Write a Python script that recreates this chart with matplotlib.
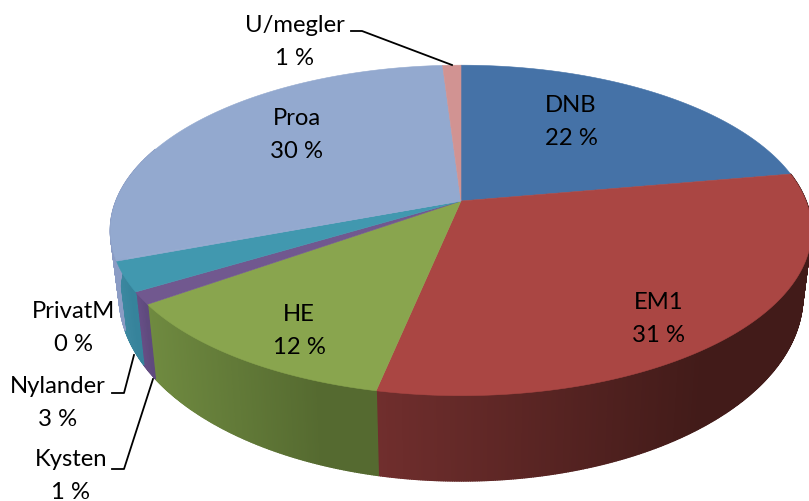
import numpy as np
import matplotlib
matplotlib.use("Agg")
import matplotlib.pyplot as plt
from matplotlib.collections import PolyCollection

names = ["DNB", "EM1", "HE", "Kysten", "Nylander", "PrivatM", "Proa", "U/megler"]
values = [22.2, 31.0, 11.9, 1.2, 2.9, 0.1, 29.6, 1.0]
top_colors = ["#4572a7", "#aa4643", "#89a54e", "#71588f", "#4198af", "#93a9cf", "#93a9cf", "#d19392"]
# wall colour at the left and right end of each slice
wall_left = ["#35577f", "#702e2d", "#6f8a40", "#674f86", "#3d88a0", "#8b9cc4", "#8b9cc4", "#d19392"]
wall_right = ["#35577f", "#421b19", "#556a30", "#5f4a7e", "#36839b", "#8b9cc4", "#8b9cc4", "#d19392"]
# label centre x, baseline y of the first line
label_x = [571, 659, 299, 71, 58, 74, 297, 295]
label_y = [112, 309, 321, 466, 393, 318, 125, 32]

# pie geometry in image pixels
cx, cy = 461, 202
A, B, k = 345, 160, 0.178
sx_bottom, sy_bottom, drop = 0.975, 1.12, 62


def top_xy(theta, r=1.0):
    u = r * np.sin(theta)
    v = r * np.cos(theta)
    w = 1 + k * v
    return cx + A * u / w, cy - B * v / w


def bottom_xy(theta):
    u = np.sin(theta)
    v = np.cos(theta)
    w = 1 + k * v
    return cx + sx_bottom * A * u / w, cy + drop - sy_bottom * B * v / w


def mix(c1, c2, t):
    a = np.array(matplotlib.colors.to_rgb(c1))
    b = np.array(matplotlib.colors.to_rgb(c2))
    return a + (b - a) * t


plt.rcParams["font.family"] = ["Lato", "DejaVu Sans"]
fig = plt.figure(figsize=(8.09, 5.02), dpi=100)
ax = fig.add_axes([0, 0, 1, 1])
ax.set_xlim(0, 809)
ax.set_ylim(502, 0)
ax.axis("off")

edges = np.concatenate([[0], np.cumsum(values)]) / np.sum(values) * 2 * np.pi
wall_lo, wall_hi = np.radians(80), np.radians(290)

# walls first, thin quads so the colour can change along x
for i in range(len(values)):
    lo = max(edges[i], wall_lo)
    hi = min(edges[i + 1], wall_hi)
    if hi <= lo:
        continue
    th = np.linspace(lo, hi, int((hi - lo) * 180) + 2)
    tx, ty = top_xy(th)
    bx, by = bottom_xy(th)
    quads = []
    cols = []
    x_min, x_max = tx.min(), tx.max()
    for j in range(len(th) - 1):
        quads.append([(tx[j], ty[j]), (tx[j + 1], ty[j + 1]), (bx[j + 1], by[j + 1]), (bx[j], by[j])])
        t = ((tx[j] + tx[j + 1]) / 2 - x_min) / max(x_max - x_min, 1)
        cols.append(mix(wall_left[i], wall_right[i], min(t / 0.75, 1)))
    ax.add_collection(PolyCollection(quads, facecolors=cols, edgecolors=cols, linewidths=1.0, zorder=2))

# top face
for i in range(len(values)):
    th = np.linspace(edges[i], edges[i + 1], 200)
    x, y = top_xy(th)
    ax.fill(np.r_[cx, x], np.r_[cy, y], facecolor=top_colors[i], edgecolor=top_colors[i], linewidth=0.4, zorder=3)

# leader lines
ax.plot([351, 362, 452], [32, 32, 66], color="black", lw=1.3, zorder=4)
ax.plot([112, 124, 134], [394, 394, 356], color="black", lw=1.3, zorder=4)
ax.plot([112, 124, 153], [470, 470, 380], color="black", lw=1.3, zorder=4)

for i in range(len(names)):
    ax.text(label_x[i], label_y[i], names[i], ha="center", va="baseline", fontsize=17.2, color="black", zorder=5)
    ax.text(label_x[i], label_y[i] + 33, f"{round(values[i])} %", ha="center", va="baseline", fontsize=17.2, color="black", zorder=5)

fig.savefig("out.png", dpi=100)
